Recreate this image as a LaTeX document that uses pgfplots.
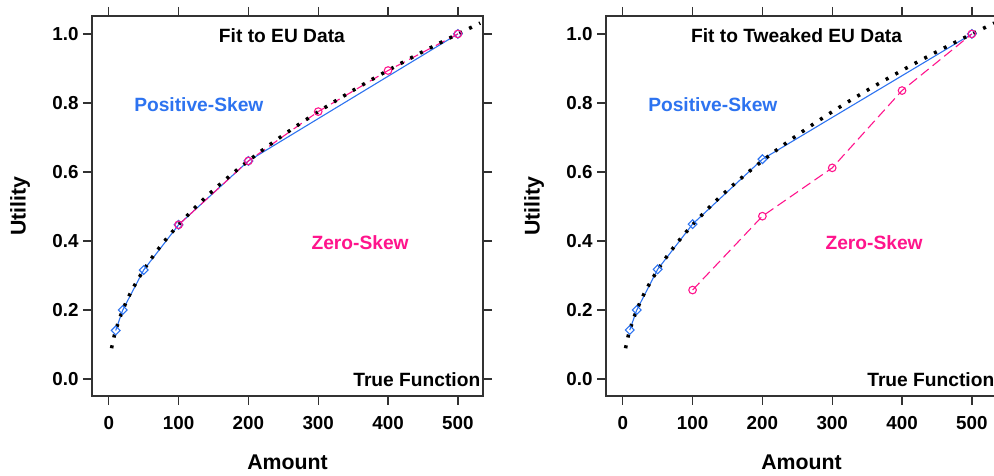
\documentclass[border=0pt]{standalone}
\usepackage{fontspec}
\setmainfont{Liberation Sans}
\usepackage{pgfplots}
\pgfplotsset{compat=1.18}

\definecolor{skewblue}{RGB}{45,115,240}
\definecolor{skewpink}{RGB}{255,20,140}
\definecolor{boxgray}{RGB}{50,50,50}

\newcommand{\lab}{\fontsize{19.2}{21}\selectfont\bfseries}

\pgfplotsset{
  panel/.style={
    scale only axis,
    width=391pt, height=380pt,
    xmin=-24, xmax=536,
    ymin=-0.049, ymax=1.052,
    xtick={0,100,200,300,400,500},
    ytick={0,0.2,0.4,0.6,0.8,1.0},
    yticklabel style={/pgf/number format/fixed,/pgf/number format/fixed zerofill,/pgf/number format/precision=1,xshift=-1pt},
    /pgf/number format/assume math mode=true,
    tick align=outside,
    major tick length=9pt,
    axis line style={boxgray,line width=1.4pt},
    every tick/.style={boxgray,line width=1.4pt},
    tick label style={font=\fontsize{18.8}{20}\selectfont\bfseries},
    xticklabel style={yshift=-8pt},
    label style={font=\fontsize{21.3}{23}\selectfont\bfseries},
    xlabel={Amount},
    ylabel={Utility},
    xlabel style={at={(axis description cs:0.5,-0.174)},anchor=center},
    ylabel style={at={(axis description cs:-0.184,0.5)},anchor=center},
  },
  truefn/.style={black,line width=3.5pt,dash pattern=on 3pt off 8pt},
  posskew/.style={skewblue,line width=1.1pt,mark=square,mark size=3.1pt,
    mark options={solid,fill=none,line width=1.1pt,rotate=45}},
  zeroskew/.style={skewpink,line width=1.1pt,dash pattern=on 10pt off 5pt,
    mark=o,mark size=3.8pt,mark options={solid,line width=1.1pt}},
}

\newcommand{\truedata}{
  (4,0.0894) (6,0.1095) (8,0.1265) (10,0.1414) (15,0.1732) (20,0.2000)
  (25,0.2236) (30,0.2449) (40,0.2828) (50,0.3162) (60,0.3464) (70,0.3742)
  (80,0.4000) (90,0.4243) (100,0.4472) (120,0.4899) (140,0.5292) (160,0.5657)
  (180,0.6000) (200,0.6325) (225,0.6708) (250,0.7071) (275,0.7416) (300,0.7746)
  (325,0.8062) (350,0.8367) (375,0.8660) (400,0.8944) (425,0.9220) (450,0.9487)
  (475,0.9747) (500,1.0000) (532,1.0315)
}

\begin{document}
\begin{tikzpicture}
\useasboundingbox (0,0) rectangle (994pt,476pt);
\clip (0,0) rectangle (994pt,476pt);

% left panel
\begin{axis}[panel, at={(92pt,80pt)}, anchor=south west]
\addplot[posskew] coordinates {(10,0.141) (20,0.200) (50,0.316) (100,0.447) (200,0.632) (500,1.000)};
\addplot[zeroskew] coordinates {(100,0.447) (200,0.632) (300,0.775) (400,0.894) (500,1.000)};
\addplot[truefn] coordinates {\truedata};
\node[font=\lab] at (axis cs:248,0.994) {Fit to EU Data};
\node[font=\lab,text=skewblue] at (axis cs:129,0.794) {Positive-Skew};
\node[font=\lab,text=skewpink] at (axis cs:360,0.394) {Zero-Skew};
\node[font=\lab,anchor=west,inner sep=0pt] at (axis cs:350,-0.003) {True Function};
\end{axis}

% right panel
\begin{axis}[panel, at={(606pt,80pt)}, anchor=south west]
\addplot[posskew] coordinates {(10,0.142) (20,0.200) (50,0.318) (100,0.449) (200,0.637) (500,1.000)};
\addplot[zeroskew] coordinates {(100,0.258) (200,0.472) (300,0.612) (400,0.836) (500,1.000)};
\addplot[truefn] coordinates {\truedata};
\node[font=\lab] at (axis cs:249,0.994) {Fit to Tweaked EU Data};
\node[font=\lab,text=skewblue] at (axis cs:129,0.794) {Positive-Skew};
\node[font=\lab,text=skewpink] at (axis cs:360,0.394) {Zero-Skew};
\node[font=\lab,anchor=west,inner sep=0pt] at (axis cs:350,-0.003) {True Function};
\end{axis}
\end{tikzpicture}
\end{document}
